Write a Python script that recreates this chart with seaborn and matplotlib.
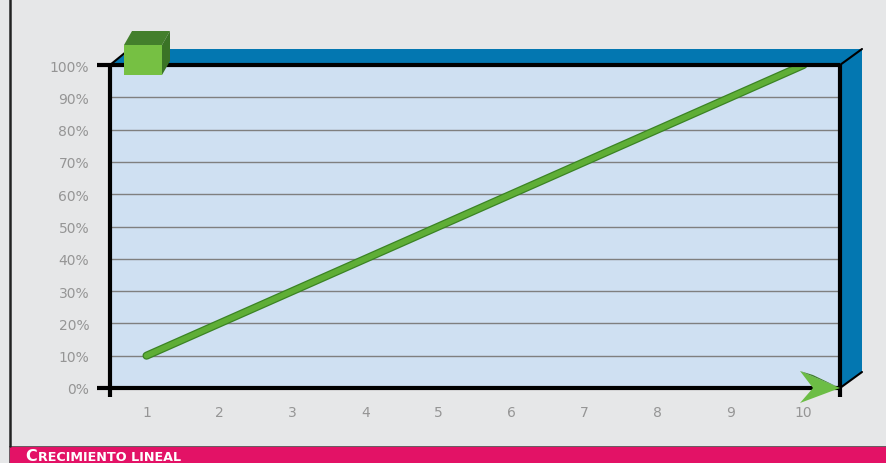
import numpy as np
import pandas as pd
import seaborn as sns
import matplotlib
matplotlib.use("Agg")
import matplotlib.pyplot as plt
from matplotlib.patches import Polygon
from matplotlib.lines import Line2D
import matplotlib.patheffects as pe

# data
steps = [1, 2, 3, 4, 5, 6, 7, 8, 9, 10]
growth = [10, 20, 30, 40, 50, 60, 70, 80, 90, 100]
y_ticks = [0, 10, 20, 30, 40, 50, 60, 70, 80, 90, 100]
title = "Crecimiento lineal"

df = pd.DataFrame({"step": steps, "growth": growth})

sns.set_style("white")
plt.rcParams["font.family"] = ["DejaVu Sans"]

W, H = 887, 464
fig = plt.figure(figsize=(W / 100, H / 100), dpi=100)
fig.patch.set_facecolor("#e6e7e8")

# plot box in pixels (top-left origin)
L, R, T, B = 110, 840, 66, 389
DX, DY = 22, 16


def fp(x, y):
    return (x / W, 1 - y / H)


ax = fig.add_axes([L / W, 1 - B / H, (R - L) / W, (B - T) / H])
ax.set_facecolor("#cfe0f2")

# 3d blue frame behind the plot box
blue = "#0377b1"
top_face = Polygon([fp(L, T), fp(R, T), fp(R + DX, T - DY), fp(L + DX, T - DY)],
                   closed=True, transform=fig.transFigure, facecolor=blue,
                   edgecolor="none", zorder=0)
side_face = Polygon([fp(R, T), fp(R + DX, T - DY), fp(R + DX, B - DY), fp(R, B)],
                    closed=True, transform=fig.transFigure, facecolor=blue,
                    edgecolor="none", zorder=0)
fig.patches.extend([top_face, side_face])
for (x0, y0), (x1, y1) in [((L, T), (L + DX - 6, T - DY + 3)),
                           ((R, T), (R + DX, T - DY)),
                           ((R, B), (R + DX, B - DY))]:
    a, b = fp(x0, y0), fp(x1, y1)
    fig.lines.append(Line2D([a[0], b[0]], [a[1], b[1]], transform=fig.transFigure,
                            color="black", lw=1.5, zorder=1))

# gridlines
for v in y_ticks[1:-1]:
    ax.axhline(v, color="#7f7f7f", lw=1.0, zorder=1)

sns.lineplot(data=df, x="step", y="growth", ax=ax, color="#5fae36", lw=4.0,
             zorder=5, solid_capstyle="round",
             path_effects=[pe.Stroke(linewidth=5.8, foreground="#3b8324"), pe.Normal()])

ax.set_xlim(0.5, 10.5)
ax.set_ylim(0, 100)
ax.set_xlabel("")
ax.set_ylabel("")

ax.set_yticks(y_ticks)
ax.set_yticklabels([f"{v}%" for v in y_ticks], color="#959595", fontsize=10)
ax.tick_params(axis="y", length=10, width=1, color="#7f7f7f", pad=5)

ax.set_xticks(np.arange(0.5, 11, 1))
ax.set_xticklabels([])
ax.tick_params(axis="x", which="major", length=7, width=1.2, color="#333333", direction="out")
ax.set_xticks(steps, minor=True)
ax.set_xticklabels([str(s) for s in steps], minor=True, color="#959595", fontsize=10)
ax.tick_params(axis="x", which="minor", length=0, pad=12)

for s in ax.spines.values():
    s.set_visible(False)

# thick black frame lines extending past the box
frame = [((L - 13, T), (R, T)), ((L - 13, B), (R, B)),
         ((L, T), (L, B + 9)), ((R, T), (R, B + 9))]
for (x0, y0), (x1, y1) in frame:
    a, b = fp(x0, y0), fp(x1, y1)
    fig.lines.append(Line2D([a[0], b[0]], [a[1], b[1]], transform=fig.transFigure,
                            color="black", lw=3.0, zorder=6, solid_capstyle="butt"))

# green arrow on the bottom axis
arrow = Polygon([fp(800, 372), fp(R, B), fp(800, 404), fp(813, B)], closed=True,
                transform=fig.transFigure, facecolor="#6cbd45", edgecolor="none", zorder=7)
arrow_shadow = Polygon([fp(800, 372), fp(R, B), fp(813, 376)], closed=True,
                       transform=fig.transFigure, facecolor="#3f7f2a", edgecolor="none", zorder=7)
fig.patches.extend([arrow, arrow_shadow])

# green cube at the top-left corner
cx0, cx1, cy0, cy1, d = 124, 162, 46, 76, (8, 14)
cube_top = Polygon([fp(cx0, cy0), fp(cx1, cy0), fp(cx1 + d[0], cy0 - d[1]), fp(cx0 + d[0], cy0 - d[1])],
                   closed=True, transform=fig.transFigure, facecolor="#437f2c", edgecolor="none", zorder=8)
cube_side = Polygon([fp(cx1, cy0), fp(cx1 + d[0], cy0 - d[1]), fp(cx1 + d[0], cy1 - d[1]), fp(cx1, cy1)],
                    closed=True, transform=fig.transFigure, facecolor="#3a7326", edgecolor="none", zorder=8)
cube_front = Polygon([fp(cx0, cy0), fp(cx1, cy0), fp(cx1, cy1), fp(cx0, cy1)],
                     closed=True, transform=fig.transFigure, facecolor="#76c043", edgecolor="none", zorder=8)
fig.patches.extend([cube_top, cube_side, cube_front])

# outer left rule and bottom title band
a, b = fp(10.5, 0), fp(10.5, 447)
fig.lines.append(Line2D([a[0], b[0]], [a[1], b[1]], transform=fig.transFigure, color="#222222", lw=1.8))
band = Polygon([fp(9, 447), fp(W, 447), fp(W, H), fp(9, H)], closed=True,
               transform=fig.transFigure, facecolor="#e31266", edgecolor="#555555", lw=0.6)
fig.patches.append(band)

# small caps title
x, y = fp(25, 461.5)
t1 = fig.text(x, y, title[0].upper(), color="white", fontsize=11.5, fontweight="bold",
              ha="left", va="baseline")
fig.canvas.draw()
bb = t1.get_window_extent()
fig.text(bb.x1 / W + 0.001, y, title[1:].upper(), color="white", fontsize=9.2,
         fontweight="bold", ha="left", va="baseline")

fig.savefig("out.png", dpi=100, facecolor=fig.get_facecolor())
